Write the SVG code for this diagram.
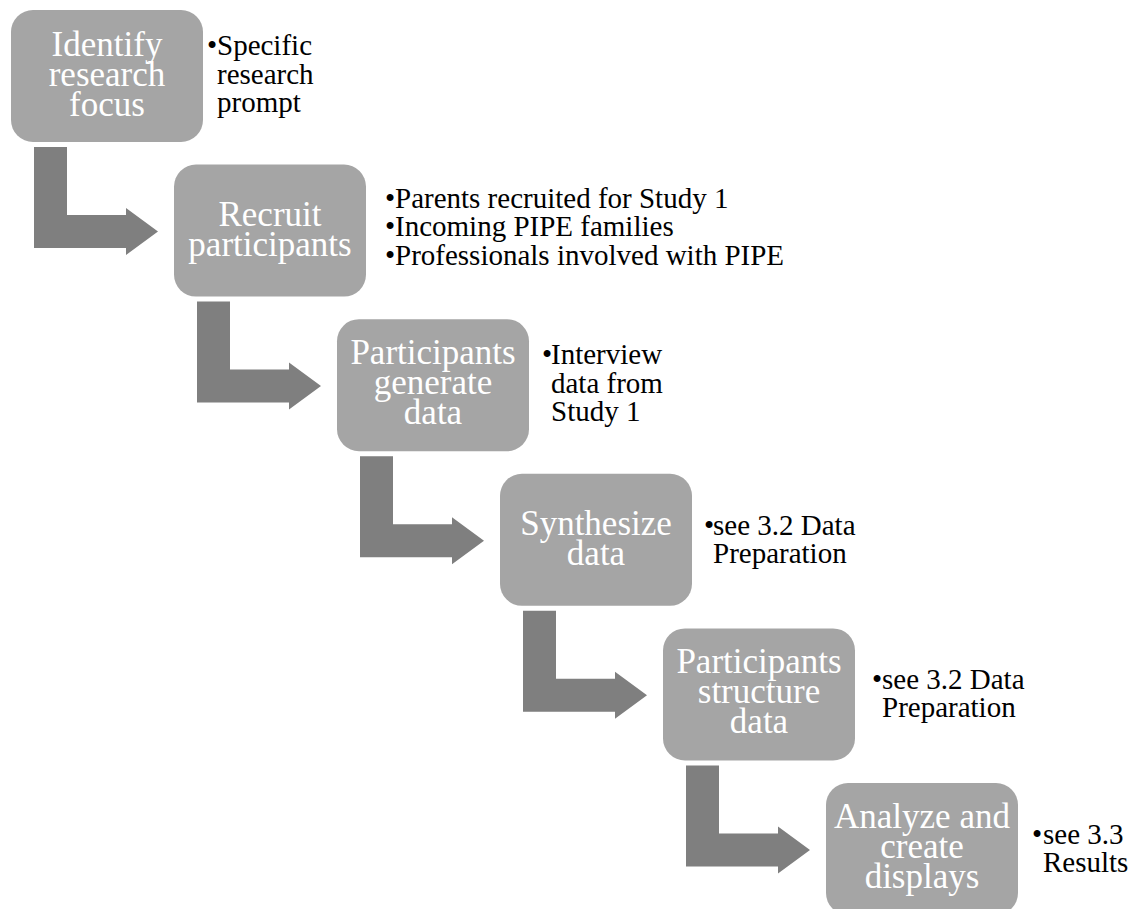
<svg xmlns="http://www.w3.org/2000/svg" width="1134" height="909" viewBox="0 0 1134 909">
<style>
.box{fill:#a5a5a5;}
.arr{fill:#7f7f7f;}
.bt{font-family:"Liberation Serif","Times New Roman",serif;font-size:35px;fill:#ffffff;text-anchor:middle;}
.ct{font-family:"Liberation Serif","Times New Roman",serif;font-size:29px;fill:#000000;}
</style>
<defs>
<path id="bend" d="M23,137 L56,137 L56,205 L115,205 L115,198 L147,221.5 L115,245 L115,238 L23,238 Z"/>
</defs>
<rect width="1134" height="909" fill="#ffffff"/>
<g id="connectors">
<use href="#bend" class="arr" transform="translate(11,10)"/>
<use href="#bend" class="arr" transform="translate(174,164.6)"/>
<use href="#bend" class="arr" transform="translate(337,319.2)"/>
<use href="#bend" class="arr" transform="translate(500,473.8)"/>
<use href="#bend" class="arr" transform="translate(663,628.4)"/>
</g>
<g id="node1">
<rect class="box" x="11" y="10" width="192" height="132" rx="22"/>
<text class="bt" x="107" y="56">Identify</text>
<text class="bt" x="107" y="86">research</text>
<text class="bt" x="107" y="116">focus</text>
<text class="ct" x="207" y="55">•</text>
<text class="ct" x="217" y="55">Specific</text>
<text class="ct" x="217" y="83.5">research</text>
<text class="ct" x="217" y="112">prompt</text>
</g>
<g id="node2">
<rect class="box" x="174" y="164.6" width="192" height="132" rx="22"/>
<text class="bt" x="270" y="225.6">Recruit</text>
<text class="bt" x="270" y="255.6">participants</text>
<text class="ct" x="385" y="207.6">•</text>
<text class="ct" x="395" y="207.6">Parents recruited for Study 1</text>
<text class="ct" x="385" y="236">•</text>
<text class="ct" x="395" y="236">Incoming PIPE families</text>
<text class="ct" x="385" y="264.6">•</text>
<text class="ct" x="395" y="264.6">Professionals involved with PIPE</text>
</g>
<g id="node3">
<rect class="box" x="337" y="319.2" width="192" height="132" rx="22"/>
<text class="bt" x="433" y="364.2">Participants</text>
<text class="bt" x="433" y="394.2">generate</text>
<text class="bt" x="433" y="424.2">data</text>
<text class="ct" x="542" y="364.2">•</text>
<text class="ct" x="551" y="364.2">Interview</text>
<text class="ct" x="551" y="392.7">data from</text>
<text class="ct" x="551" y="421.2">Study 1</text>
</g>
<g id="node4">
<rect class="box" x="500" y="473.8" width="192" height="132" rx="22"/>
<text class="bt" x="596" y="534.8">Synthesize</text>
<text class="bt" x="596" y="564.8">data</text>
<text class="ct" x="704" y="534.8">•</text>
<text class="ct" x="713" y="534.8">see 3.2 Data</text>
<text class="ct" x="713" y="562.8">Preparation</text>
</g>
<g id="node5">
<rect class="box" x="663" y="628.4" width="192" height="132" rx="22"/>
<text class="bt" x="759" y="673.4">Participants</text>
<text class="bt" x="759" y="703.4">structure</text>
<text class="bt" x="759" y="733.4">data</text>
<text class="ct" x="872" y="689.4">•</text>
<text class="ct" x="882" y="689.4">see 3.2 Data</text>
<text class="ct" x="882" y="717.4">Preparation</text>
</g>
<g id="node6">
<rect class="box" x="826" y="783" width="192" height="132" rx="22"/>
<text class="bt" x="922" y="828">Analyze and</text>
<text class="bt" x="922" y="858">create</text>
<text class="bt" x="922" y="888">displays</text>
<text class="ct" x="1032" y="844">•</text>
<text class="ct" x="1043" y="844">see 3.3</text>
<text class="ct" x="1043" y="872">Results</text>
</g>
</svg>
